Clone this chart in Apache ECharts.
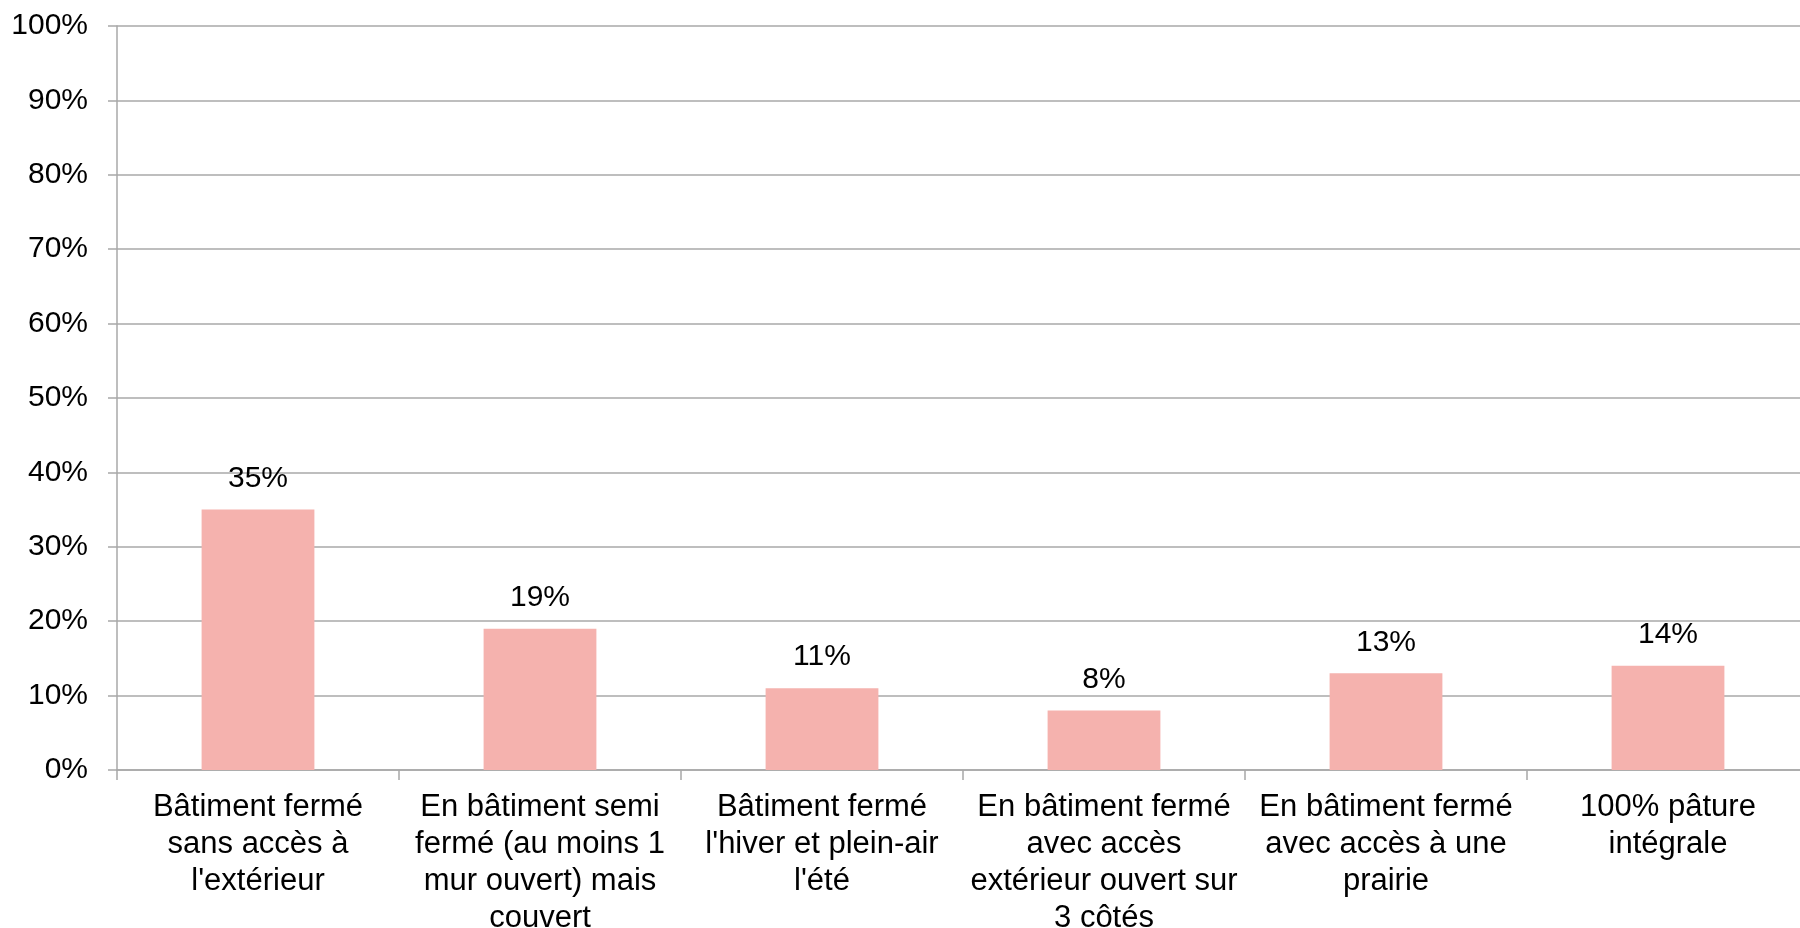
<!DOCTYPE html>
<html>
<head>
<meta charset="utf-8">
<script src="https://cdn.jsdelivr.net/npm/echarts@6/dist/echarts.min.js"></script>
<style>
  html, body { margin: 0; padding: 0; background: #fff; }
  #chart { width: 1800px; height: 928px; }
</style>
</head>
<body>
<div id="chart"></div>
<script>
// categories (line breaks as in the original)
var categories = [
  "Bâtiment fermé\nsans accès à\nl'extérieur",
  "En bâtiment semi\nfermé (au moins 1\nmur ouvert) mais\ncouvert",
  "Bâtiment fermé\nl'hiver et plein-air\nl'été",
  "En bâtiment fermé\navec accès\nextérieur ouvert sur\n3 côtés",
  "En bâtiment fermé\navec accès à une\nprairie",
  "100% pâture\nintégrale"
];
// share of farms, in %
var values = [35, 19, 11, 8, 13, 14];
// y axis ticks
var yMin = 0, yMax = 100, yStep = 10;

var myChart = echarts.init(document.getElementById("chart"));
myChart.setOption({
  animation: false,
  textStyle: { fontFamily: "Liberation Sans, Arial, sans-serif" },
  grid: {
    left: 117,
    top: 26,
    width: 1692,
    height: 744,
    containLabel: false,
    outerBoundsMode: "none"
  },
  xAxis: {
    type: "category",
    data: categories,
    boundaryGap: true,
    axisLine: { lineStyle: { color: "#a8a8a8", width: 1.5 } },
    axisTick: { show: true, length: 10, lineStyle: { color: "#a8a8a8", width: 1.5 } },
    axisLabel: {
      interval: 0,
      margin: 19,
      color: "#000",
      fontSize: 31,
      lineHeight: 37
    }
  },
  yAxis: {
    type: "value",
    min: yMin,
    max: yMax,
    interval: yStep,
    axisLine: { show: true, lineStyle: { color: "#a8a8a8", width: 1.5 } },
    axisTick: { show: true, length: 9, lineStyle: { color: "#a8a8a8", width: 1.5 } },
    axisLabel: {
      margin: 29,
      color: "#000",
      fontSize: 30,
      formatter: "{value}%"
    },
    splitLine: {
      show: true,
      lineStyle: { color: "#a8a8a8", width: 1.5 }
    }
  },
  series: [
    {
      type: "bar",
      data: values,
      barWidth: "40%",
      itemStyle: { color: "#f5b2ae" },
      label: {
        show: true,
        position: "top",
        distance: 16,
        color: "#000",
        fontSize: 30,
        formatter: "{c}%"
      }
    }
  ]
});
</script>
</body>
</html>
